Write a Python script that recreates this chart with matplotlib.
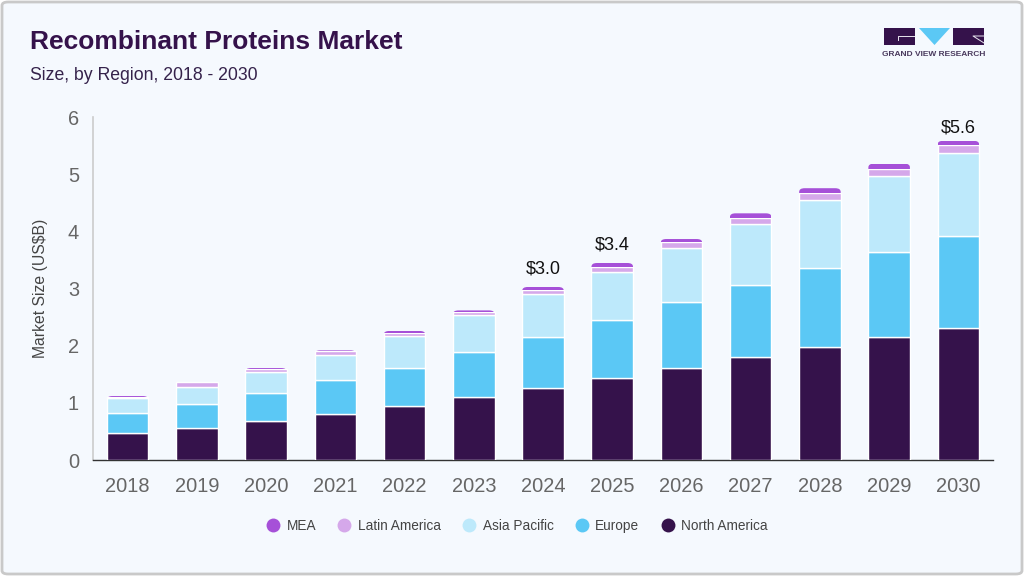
import numpy as np
import matplotlib
matplotlib.use("Agg")
import matplotlib.pyplot as plt
from matplotlib.lines import Line2D
from matplotlib.patches import FancyBboxPatch, Polygon, Rectangle

plt.rcParams["font.family"] = ["Liberation Sans", "DejaVu Sans"]

years = ["2018", "2019", "2020", "2021", "2022", "2023", "2024", "2025", "2026", "2027", "2028", "2029", "2030"]
north_america = [0.47, 0.56, 0.68, 0.80, 0.94, 1.10, 1.26, 1.43, 1.61, 1.80, 1.98, 2.15, 2.31]
europe = [0.35, 0.42, 0.50, 0.60, 0.67, 0.79, 0.89, 1.02, 1.16, 1.26, 1.38, 1.49, 1.61]
asia_pacific = [0.26, 0.29, 0.36, 0.44, 0.56, 0.65, 0.75, 0.84, 0.95, 1.07, 1.20, 1.33, 1.46]
latin_america = [0.03, 0.09, 0.05, 0.07, 0.06, 0.05, 0.08, 0.09, 0.09, 0.10, 0.11, 0.12, 0.13]
mea = [0.01, 0.01, 0.02, 0.01, 0.03, 0.03, 0.05, 0.07, 0.06, 0.09, 0.09, 0.10, 0.08]
y_ticks = [0, 1, 2, 3, 4, 5, 6]
callouts = {"2024": "$3.0", "2025": "$3.4", "2030": "$5.6"}

series = [
    ("North America", north_america, "#35124b"),
    ("Europe", europe, "#5bc8f5"),
    ("Asia Pacific", asia_pacific, "#bde9fb"),
    ("Latin America", latin_america, "#d5a8ea"),
    ("MEA", mea, "#a650d8"),
]

W, H = 1024, 576
BG = "#f5f9fe"
DARK = "#35124b"


def px_x(x):
    return x / W


def px_y(y):
    return 1 - y / H


fig = plt.figure(figsize=(W / 100, H / 100), dpi=100, facecolor="white")

# card behind everything
fig.add_artist(FancyBboxPatch((2 / W, 2 / H), 1 - 4 / W, 1 - 4 / H,
                              boxstyle="round,pad=0,rounding_size=0.006",
                              transform=fig.transFigure, facecolor=BG,
                              edgecolor="#c9c9c9", linewidth=2, zorder=-5))

ax = fig.add_axes([px_x(93), px_y(460), 900 / W, 342.6 / H])
ax.patch.set_alpha(0)

x = np.arange(len(years))
bottom = np.zeros(len(years))
for name, values, color in series:
    bars = ax.bar(x, values, 0.6, bottom=bottom, color=color, edgecolor="white",
                  linewidth=1.0, label=name, zorder=3)
    bottom = bottom + np.array(values)
    if name == "MEA":
        # top of the stack has rounded corners
        for b in bars:
            clip = FancyBboxPatch((b.get_x(), b.get_y() - 0.2), b.get_width(), b.get_height() + 0.2,
                                  boxstyle="round,pad=0,rounding_size=0.08",
                                  mutation_aspect=0.8, transform=ax.transData)
            b.set_clip_path(clip)
            b.set_edgecolor("none")

totals = bottom
for i, year in enumerate(years):
    if year in callouts:
        # last label sits closer to its bar
        offset = 3 if year == "2030" else 6.6
        ax.annotate(callouts[year].replace("$", r"\$"), (i, totals[i]), xytext=(0, offset),
                    textcoords="offset points", ha="center", va="bottom",
                    fontsize=13, color="#111111")

ax.set_xlim(-0.5, len(years) - 0.5)
ax.set_ylim(0, 6)
ax.set_xticks(x, years)
ax.set_yticks(y_ticks)
ax.tick_params(axis="x", length=0, pad=12.5, labelsize=14.4, labelcolor="#666666")
ax.tick_params(axis="y", length=0, pad=10, labelsize=14.4, labelcolor="#666666")
ax.spines["top"].set_visible(False)
ax.spines["right"].set_visible(False)
ax.spines["left"].set_color("#cccccc")
ax.spines["left"].set_linewidth(1.2)
ax.spines["bottom"].set_color("#333333")
ax.spines["bottom"].set_linewidth(1.0)
ax.set_ylabel("Market Size (US$B)".replace("$", r"\$"), fontsize=11.3, color="#444444", labelpad=14)

# legend in reverse stacking order
handles, labels = ax.get_legend_handles_labels()
markers = [Line2D([], [], marker="o", linestyle="none", markersize=10,
                  markerfacecolor=h.patches[0].get_facecolor(), markeredgecolor="none")
           for h in handles]
fig.legend(markers[::-1], labels[::-1], ncol=5, loc="center", bbox_to_anchor=(px_x(517), px_y(526)),
           frameon=False, fontsize=9.8, labelcolor="#444444", handlelength=1.0, handletextpad=0.5,
           columnspacing=1.57)

fig.text(px_x(30), px_y(42), "Recombinant Proteins Market", fontsize=19, fontweight="bold",
         color=DARK, va="center", ha="left")
fig.text(px_x(30), px_y(76), "Size, by Region, 2018 - 2030", fontsize=12.7, color="#35224b",
         va="center", ha="left")

# logo
fig.add_artist(Rectangle((px_x(884), px_y(45)), 31 / W, 17 / H, transform=fig.transFigure,
                         facecolor=DARK, edgecolor="none"))
fig.add_artist(Rectangle((px_x(953), px_y(45)), 31 / W, 17 / H, transform=fig.transFigure,
                         facecolor=DARK, edgecolor="none"))
fig.add_artist(Polygon([(px_x(919), px_y(28)), (px_x(950), px_y(28)), (px_x(934.5), px_y(45))],
                       transform=fig.transFigure, facecolor="#5bc8f5", edgecolor="none"))
fig.add_artist(Line2D([px_x(898), px_x(898), px_x(914)], [px_y(40), px_y(36), px_y(36)],
                      transform=fig.transFigure, color="#e8e4ee", linewidth=0.7))
fig.add_artist(Line2D([px_x(984), px_x(973), px_x(984)], [px_y(36), px_y(36), px_y(43)],
                      transform=fig.transFigure, color="#e8e4ee", linewidth=0.7))
fig.text(px_x(934), px_y(55), "GRAND VIEW RESEARCH", fontsize=6, fontweight="bold", color="#4a3a5e",
         ha="center", va="center")

fig.savefig("out.png", dpi=100, facecolor="white")
